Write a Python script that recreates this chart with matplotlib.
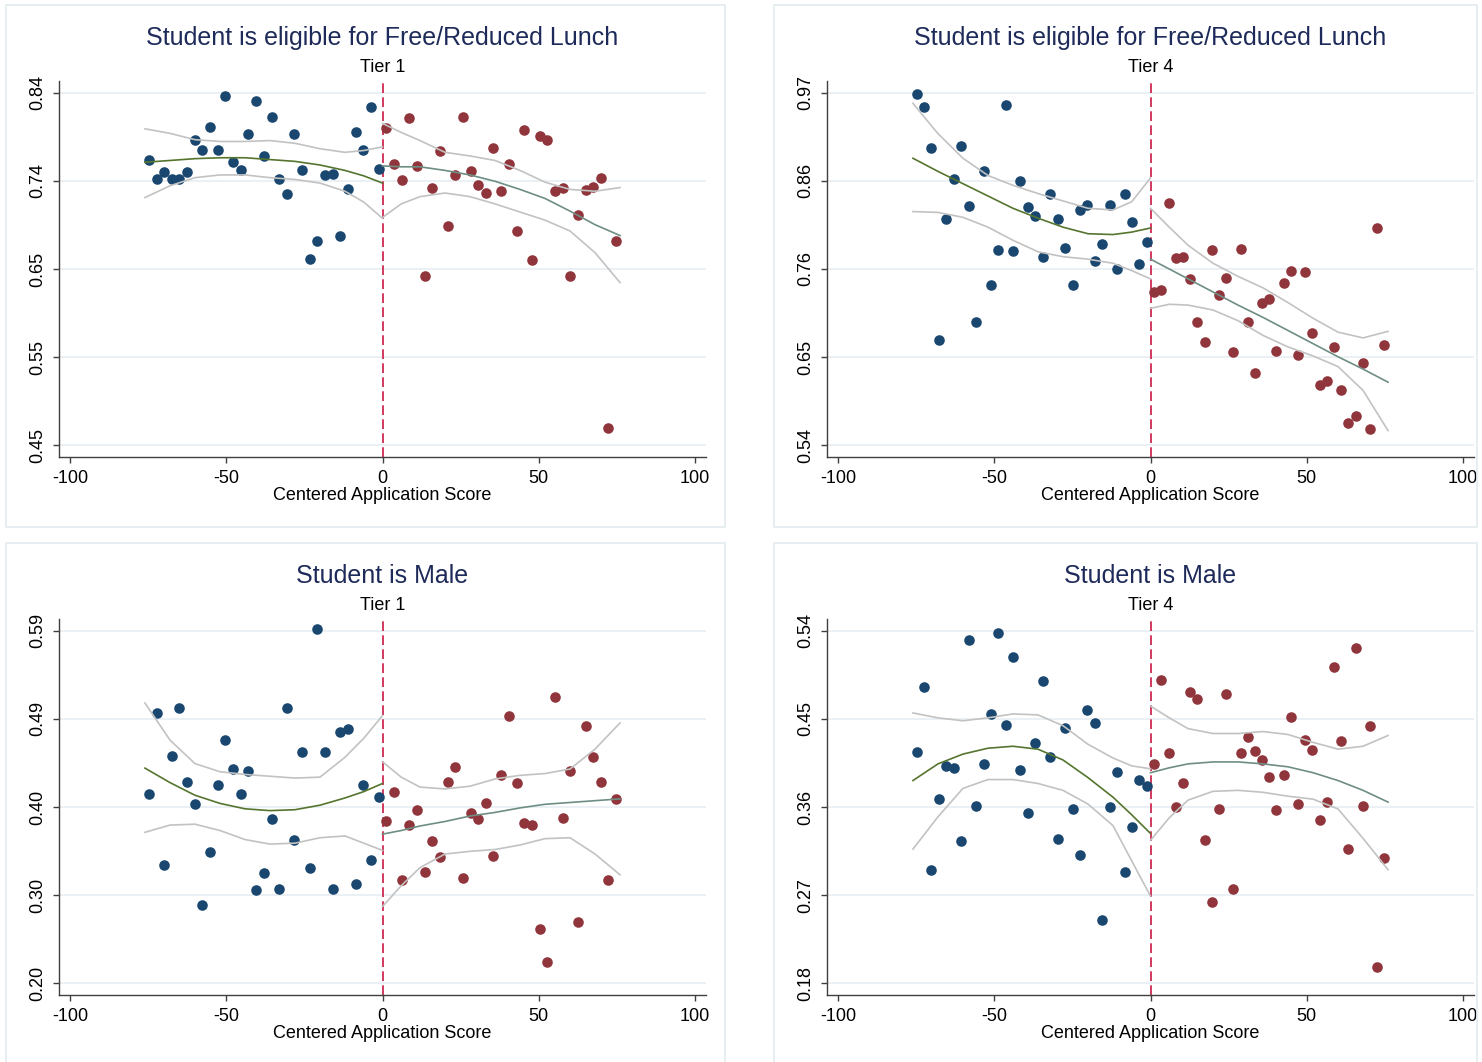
import numpy as np
import matplotlib
matplotlib.use('Agg')
import matplotlib.pyplot as plt
from matplotlib.patches import Rectangle

plt.rcParams['font.family'] = ['Liberation Sans', 'DejaVu Sans']

# binned means: bin centres on each side of the cutoff
TIER1_LEFT_X = [-74.8, -72.3, -69.9, -67.4, -65.0, -62.5, -60.1, -57.6, -55.2, -52.7,
                -50.3, -47.8, -45.4, -42.9, -40.5, -38.0, -35.5, -33.1, -30.6, -28.2,
                -25.7, -23.3, -20.8, -18.4, -15.9, -13.5, -11.0, -8.6, -6.1, -3.7, -1.2]
TIER1_RIGHT_X = [1.2, 3.7, 6.1, 8.6, 11.0, 13.5, 15.9, 18.4, 20.8, 23.3, 25.7, 28.2,
                 30.6, 33.1, 35.5, 38.0, 40.5, 42.9, 45.4, 47.8, 50.3, 52.7, 55.2, 57.6,
                 60.1, 62.5, 65.0, 67.4, 69.9, 72.3, 74.8]
TIER4_LEFT_X = [-74.8, -72.4, -70.1, -67.7, -65.3, -62.9, -60.6, -58.2, -55.8, -53.4,
                -51.1, -48.7, -46.3, -43.9, -41.6, -39.2, -36.8, -34.4, -32.1, -29.7,
                -27.3, -24.9, -22.6, -20.2, -17.8, -15.4, -13.1, -10.7, -8.3, -5.9,
                -3.6, -1.2]
TIER4_RIGHT_X = [1.2, 3.5, 5.8, 8.1, 10.4, 12.7, 15.0, 17.3, 19.6, 21.9, 24.2, 26.5,
                 28.8, 31.1, 33.4, 35.7, 38.0, 40.3, 42.6, 44.9, 47.2, 49.5, 51.8, 54.1,
                 56.4, 58.7, 61.0, 63.3, 65.6, 67.9, 70.2, 72.5, 74.8]

# grid the fitted curves and confidence bands are evaluated on
FIT_X_LEFT = [-76, -68, -60, -52, -44, -36, -28, -20, -12, -6, 0]
FIT_X_RIGHT = [0, 6, 12, 20, 28, 36, 44, 52, 60, 68, 76]

X_TICKS = [-100, -50, 0, 50, 100]
X_TICK_LABELS = ['-100', '-50', '0', '50', '100']

# free/reduced lunch, tier 1
frl1_left = [0.765, 0.745, 0.752, 0.745, 0.745, 0.752, 0.788, 0.777, 0.802, 0.777,
             0.836, 0.763, 0.755, 0.794, 0.831, 0.770, 0.813, 0.744, 0.728, 0.794,
             0.755, 0.656, 0.676, 0.749, 0.750, 0.682, 0.733, 0.796, 0.777, 0.824, 0.756]
frl1_right = [0.801, 0.761, 0.743, 0.812, 0.759, 0.637, 0.735, 0.775, 0.692, 0.749,
              0.813, 0.753, 0.738, 0.729, 0.779, 0.731, 0.761, 0.687, 0.799, 0.655,
              0.792, 0.788, 0.731, 0.735, 0.637, 0.705, 0.732, 0.736, 0.746, 0.469, 0.676]
frl1_fit_left = [0.763, 0.765, 0.767, 0.768, 0.768, 0.766, 0.764, 0.760, 0.754, 0.748, 0.740]
frl1_hi_left = [0.800, 0.795, 0.788, 0.786, 0.786, 0.787, 0.784, 0.778, 0.774, 0.776, 0.780]
frl1_lo_left = [0.724, 0.737, 0.746, 0.749, 0.749, 0.746, 0.744, 0.740, 0.731, 0.719, 0.701]
frl1_fit_right = [0.759, 0.758, 0.758, 0.754, 0.749, 0.742, 0.733, 0.723, 0.709, 0.694, 0.682]
frl1_hi_right = [0.806, 0.796, 0.787, 0.774, 0.770, 0.765, 0.754, 0.741, 0.733, 0.731, 0.735]
frl1_lo_right = [0.702, 0.717, 0.725, 0.729, 0.725, 0.717, 0.708, 0.699, 0.687, 0.663, 0.630]
frl1_ticks = ['0.45', '0.55', '0.65', '0.74', '0.84']

# free/reduced lunch, tier 4
frl4_left = [0.968, 0.953, 0.902, 0.669, 0.816, 0.865, 0.905, 0.832, 0.690, 0.874,
             0.735, 0.778, 0.955, 0.777, 0.862, 0.830, 0.820, 0.770, 0.846, 0.816,
             0.780, 0.736, 0.827, 0.833, 0.765, 0.785, 0.833, 0.755, 0.847, 0.812,
             0.761, 0.788]
frl4_right = [0.727, 0.729, 0.835, 0.768, 0.770, 0.743, 0.690, 0.666, 0.778, 0.723,
              0.744, 0.654, 0.779, 0.690, 0.628, 0.713, 0.718, 0.655, 0.738, 0.753,
              0.650, 0.751, 0.677, 0.613, 0.619, 0.660, 0.607, 0.567, 0.576, 0.640,
              0.560, 0.805, 0.662]
frl4_fit_left = [0.890, 0.874, 0.859, 0.844, 0.829, 0.817, 0.806, 0.798, 0.797, 0.800, 0.805]
frl4_hi_left = [0.957, 0.920, 0.890, 0.869, 0.857, 0.847, 0.838, 0.829, 0.827, 0.837, 0.866]
frl4_lo_left = [0.825, 0.824, 0.818, 0.806, 0.790, 0.776, 0.770, 0.767, 0.762, 0.753, 0.743]
frl4_fit_right = [0.767, 0.755, 0.743, 0.727, 0.711, 0.696, 0.680, 0.664, 0.648, 0.633, 0.617]
frl4_hi_right = [0.829, 0.806, 0.784, 0.762, 0.746, 0.732, 0.714, 0.695, 0.678, 0.671, 0.679]
frl4_lo_right = [0.707, 0.712, 0.711, 0.705, 0.692, 0.674, 0.660, 0.649, 0.636, 0.607, 0.558]
frl4_ticks = ['0.54', '0.65', '0.76', '0.86', '0.97']

# male, tier 1
male1_left = [0.409, 0.499, 0.331, 0.451, 0.505, 0.423, 0.398, 0.287, 0.345, 0.419,
              0.469, 0.437, 0.409, 0.435, 0.303, 0.322, 0.382, 0.304, 0.505, 0.358,
              0.456, 0.328, 0.592, 0.456, 0.304, 0.478, 0.481, 0.310, 0.419, 0.336, 0.406]
male1_right = [0.380, 0.412, 0.314, 0.375, 0.392, 0.323, 0.357, 0.340, 0.423, 0.439,
               0.316, 0.388, 0.382, 0.399, 0.341, 0.430, 0.496, 0.422, 0.377, 0.375,
               0.260, 0.224, 0.517, 0.383, 0.435, 0.268, 0.485, 0.450, 0.423, 0.314, 0.404]
male1_fit_left = [0.438, 0.422, 0.408, 0.399, 0.393, 0.391, 0.392, 0.397, 0.405, 0.412, 0.421]
male1_hi_left = [0.510, 0.469, 0.443, 0.434, 0.431, 0.429, 0.427, 0.428, 0.450, 0.471, 0.496]
male1_lo_left = [0.367, 0.375, 0.376, 0.369, 0.359, 0.354, 0.355, 0.361, 0.363, 0.355, 0.347]
male1_fit_right = [0.365, 0.369, 0.374, 0.379, 0.385, 0.389, 0.394, 0.398, 0.400, 0.402, 0.404]
male1_hi_right = [0.445, 0.428, 0.417, 0.415, 0.418, 0.426, 0.430, 0.432, 0.437, 0.459, 0.488]
male1_lo_right = [0.285, 0.308, 0.328, 0.343, 0.346, 0.348, 0.353, 0.360, 0.361, 0.343, 0.320]
male1_ticks = ['0.20', '0.30', '0.40', '0.49', '0.59']

# male, tier 4
male4_left = [0.416, 0.482, 0.296, 0.368, 0.402, 0.400, 0.325, 0.530, 0.361, 0.404,
              0.455, 0.538, 0.444, 0.513, 0.398, 0.354, 0.425, 0.489, 0.411, 0.327,
              0.441, 0.358, 0.311, 0.459, 0.446, 0.245, 0.360, 0.396, 0.294, 0.340,
              0.388, 0.381]
male4_right = [0.404, 0.490, 0.415, 0.360, 0.385, 0.477, 0.470, 0.326, 0.263, 0.358,
               0.475, 0.276, 0.415, 0.431, 0.417, 0.408, 0.391, 0.357, 0.393, 0.452,
               0.363, 0.428, 0.418, 0.347, 0.365, 0.503, 0.427, 0.317, 0.522, 0.361,
               0.443, 0.197, 0.308]
male4_fit_left = [0.387, 0.404, 0.414, 0.420, 0.422, 0.419, 0.408, 0.390, 0.370, 0.352, 0.333]
male4_hi_left = [0.456, 0.451, 0.448, 0.451, 0.455, 0.454, 0.443, 0.424, 0.410, 0.402, 0.399]
male4_lo_left = [0.317, 0.350, 0.379, 0.388, 0.388, 0.384, 0.377, 0.363, 0.341, 0.305, 0.269]
male4_fit_right = [0.395, 0.400, 0.404, 0.406, 0.406, 0.404, 0.401, 0.395, 0.387, 0.377, 0.365]
male4_hi_right = [0.463, 0.451, 0.440, 0.435, 0.435, 0.437, 0.434, 0.426, 0.419, 0.422, 0.433]
male4_lo_right = [0.326, 0.349, 0.367, 0.376, 0.377, 0.375, 0.371, 0.368, 0.358, 0.328, 0.296]
male4_ticks = ['0.18', '0.27', '0.36', '0.45', '0.54']

NAVY = '#1A476F'
MAROON = '#90353B'
FOREST = '#55752F'
TEAL = '#6E8E84'
CI_GRAY = '#C2C2C2'
CUTOFF = '#D13A5E'
GRID = '#E6EEF1'
TITLE = '#1E2B5A'
AXIS = '#404040'
FRAME = '#E3EBEF'

panels = [
    dict(title='Student is eligible for Free/Reduced Lunch', sub='Tier 1', col=0, row=0,
         yr=(0.45, 0.84), yl=frl1_ticks,
         xl=TIER1_LEFT_X, xr=TIER1_RIGHT_X, left=frl1_left, right=frl1_right,
         fl=frl1_fit_left, hl=frl1_hi_left, ll=frl1_lo_left,
         fr=frl1_fit_right, hr=frl1_hi_right, lr=frl1_lo_right),
    dict(title='Student is eligible for Free/Reduced Lunch', sub='Tier 4', col=1, row=0,
         yr=(0.54, 0.97), yl=frl4_ticks,
         xl=TIER4_LEFT_X, xr=TIER4_RIGHT_X, left=frl4_left, right=frl4_right,
         fl=frl4_fit_left, hl=frl4_hi_left, ll=frl4_lo_left,
         fr=frl4_fit_right, hr=frl4_hi_right, lr=frl4_lo_right),
    dict(title='Student is Male', sub='Tier 1', col=0, row=1,
         yr=(0.20, 0.59), yl=male1_ticks,
         xl=TIER1_LEFT_X, xr=TIER1_RIGHT_X, left=male1_left, right=male1_right,
         fl=male1_fit_left, hl=male1_hi_left, ll=male1_lo_left,
         fr=male1_fit_right, hr=male1_hi_right, lr=male1_lo_right),
    dict(title='Student is Male', sub='Tier 4', col=1, row=1,
         yr=(0.18, 0.54), yl=male4_ticks,
         xl=TIER4_LEFT_X, xr=TIER4_RIGHT_X, left=male4_left, right=male4_right,
         fl=male4_fit_left, hl=male4_hi_left, ll=male4_lo_left,
         fr=male4_fit_right, hr=male4_hi_right, lr=male4_lo_right),
]

W, H = 1482, 1062
fig = plt.figure(figsize=(W / 100, H / 100), dpi=100)
fig.patch.set_facecolor('white')


def fx(px):
    return px / W


def fy(py):
    return 1 - py / H


for p in panels:
    dx = 768 * p['col']
    dy = 538 * p['row']

    # outline round each sub-graph
    x0, x1 = 6 + dx, (725 if p['col'] == 0 else 1477)
    y0, y1 = 5 + dy, 527 + dy
    fig.add_artist(Rectangle((fx(x0), fy(y1)), fx(x1 - x0), (y1 - y0) / H,
                             transform=fig.transFigure, fill=False,
                             edgecolor=FRAME, lw=1.2))

    left, right, top, bottom = 59 + dx, 706 + dx, 81 + dy, 457 + dy
    ax = fig.add_axes([fx(left), fy(bottom), fx(right - left), (bottom - top) / H])

    lo, hi = p['yr']
    pad = 0.033 * (hi - lo)
    ax.set_ylim(lo - pad, hi + pad)
    ax.set_xlim(-103.5, 103.5)
    ax.set_yticks(np.linspace(lo, hi, 5))
    ax.set_yticklabels(p['yl'], rotation=90, va='center')
    ax.set_xticks(X_TICKS)
    ax.set_xticklabels(X_TICK_LABELS)
    ax.tick_params(axis='both', length=4, width=1, color=AXIS, labelsize=13)
    ax.tick_params(axis='x', pad=5.5)
    ax.tick_params(axis='y', pad=5)
    ax.grid(axis='y', color=GRID, lw=1.2)
    ax.set_axisbelow(True)
    for s in ['top', 'right']:
        ax.spines[s].set_visible(False)
    for s in ['left', 'bottom']:
        ax.spines[s].set_color(AXIS)
        ax.spines[s].set_linewidth(1.0)

    ax.axvline(0, color=CUTOFF, lw=1.4, dashes=(5, 2.2), zorder=2)

    ax.scatter(p['xl'], p['left'], s=58, color=NAVY, linewidths=0, zorder=3)
    ax.scatter(p['xr'], p['right'], s=58, color=MAROON, linewidths=0, zorder=3)

    for ys in (p['hl'], p['ll']):
        ax.plot(FIT_X_LEFT, ys, color=CI_GRAY, lw=1.2, zorder=4,
                solid_joinstyle='round')
    for ys in (p['hr'], p['lr']):
        ax.plot(FIT_X_RIGHT, ys, color=CI_GRAY, lw=1.2, zorder=4,
                solid_joinstyle='round')
    ax.plot(FIT_X_LEFT, p['fl'], color=FOREST, lw=1.2, zorder=4, solid_joinstyle='round')
    ax.plot(FIT_X_RIGHT, p['fr'], color=TEAL, lw=1.2, zorder=4, solid_joinstyle='round')

    ax.set_xlabel('Centered Application Score', fontsize=13, labelpad=0)

    cx = fx((left + right) / 2)
    fig.text(cx, fy(38 + dy), p['title'], ha='center', va='center',
             fontsize=18, color=TITLE)
    fig.text(cx, fy(68 + dy), p['sub'], ha='center', va='center',
             fontsize=13, color='black')

fig.savefig('out.png', dpi=100, facecolor='white')
